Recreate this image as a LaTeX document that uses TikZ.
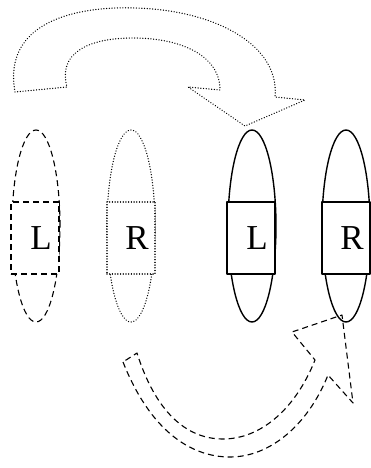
\documentclass[tikz,border=0pt]{standalone}
\usepackage{fontspec}
\setmainfont{Liberation Serif}
\usetikzlibrary{shapes.geometric}
\begin{document}
\begin{tikzpicture}
	[
		x=1pt,
		y=-1pt,
		line join=round,
		line width=1.1pt,
		dots/.style={line width=1.4pt,line cap=round,dash pattern=on 0.01pt off 2.7pt},
		dashes/.style={dash pattern=on 6pt off 4pt},
		pod/.style={draw,ellipse,inner sep=0pt,minimum width=48pt,minimum height=192pt},
		side/.style={draw,fill=white,inner sep=0pt,minimum width=48pt,minimum height=72pt,
			font=\fontsize{35}{35}\selectfont,execute at begin node={\kern12pt}}
	]
		\useasboundingbox (0,0) rectangle (370,468);
		% before
		\node[pod,dashes] (podA) at (36,226) {};
		\node[side,dashes] (boxA) at (35,238) {L};
		\node[pod,dots] (podB) at (131,226) {};
		\node[side,dots] (boxB) at (131,238) {R};
		% after
		\node[pod,line width=1.4pt] (podC) at (252,226) {};
		\node[side,line width=1.4pt] (boxC) at (251,238) {L};
		\node[pod,line width=1.4pt] (podD) at (346,226) {};
		\node[side,line width=1.4pt] (boxD) at (346,238) {R};
		% swap arrows
		\draw[dots] (15,92) .. controls (2,20) and (80,6) .. (135,8)
			.. controls (215,10) and (280,45) .. (275,97)
			-- (305,100) -- (245,126) -- (188,87) -- (220,90)
			.. controls (220,55) and (180,38) .. (133,38)
			.. controls (85,38) and (58,55) .. (67,87) -- cycle;
		\draw[dashes] (123,362) .. controls (150,430) and (190,457) .. (230,457)
			.. controls (270,457) and (308,425) .. (328,375)
			-- (353,403) -- (342,315) -- (292,332) -- (315,360)
			.. controls (295,410) and (260,439) .. (223,439)
			.. controls (185,439) and (155,410) .. (137,353) -- cycle;
	\end{tikzpicture}
\end{document}
